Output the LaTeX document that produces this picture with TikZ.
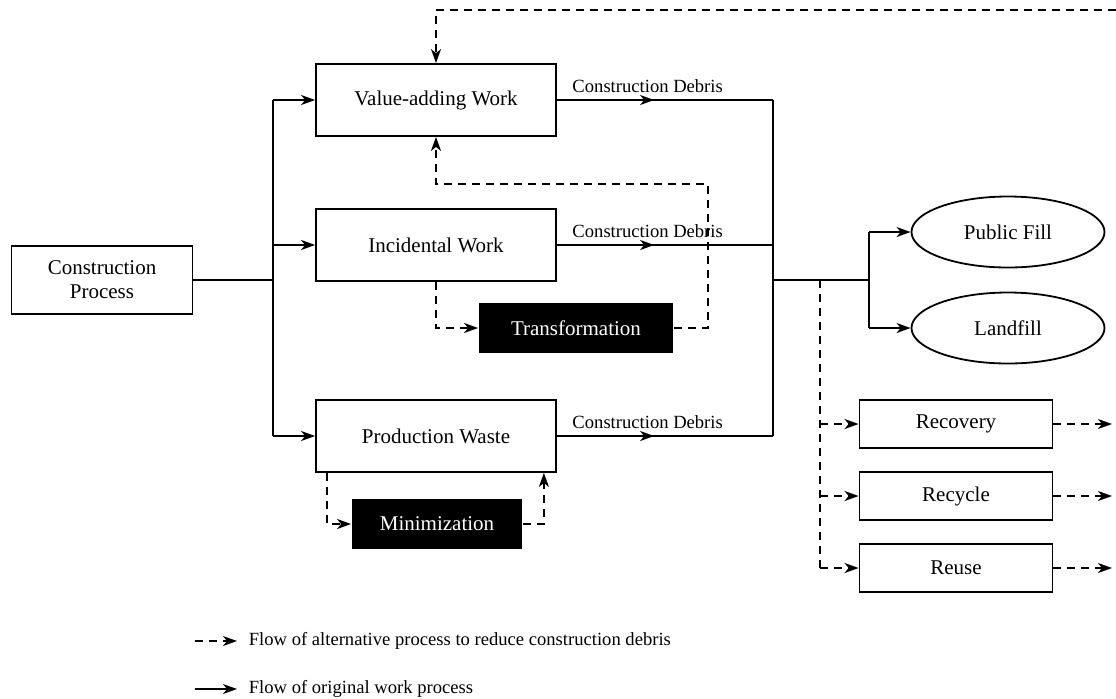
\documentclass[tikz,border=0pt]{standalone}
\usepackage{fontspec}
\setmainfont{Liberation Serif}
\usetikzlibrary{positioning,shapes.geometric,arrows.meta,decorations.markings}

\begin{document}
\begin{tikzpicture}[
    x=0.5pt,y=-0.5pt,
    line width=0.9pt,
    >={Stealth[length=7pt,width=5pt,inset=2pt]},
    process/.style={rectangle,draw,minimum width=120pt,minimum height=36pt,inner sep=0pt},
    action/.style={rectangle,fill=black,text=white,minimum height=25pt,inner sep=0pt},
    option/.style={rectangle,draw,minimum width=96.5pt,minimum height=24pt,inner sep=0pt},
    outlet/.style={ellipse,draw,minimum width=96.5pt,minimum height=35.5pt,inner sep=0pt},
    alt/.style={dash pattern=on 4pt off 3pt,->},
    debris/.style={postaction={decorate},decoration={markings,mark=at position 0.45 with {\arrow{>}}}},
    small/.style={font=\fontsize{9.3}{11}\selectfont},
    font=\fontsize{10.5}{12}\selectfont
    ]

    \useasboundingbox (0,0) rectangle (1116,698);

    % left box:
    \node (cp) at (102,280) [process,minimum width=90.5pt,minimum height=34pt,align=center] {Construction\\Process};

    % middle boxes:
    \node (va) at (436,100) [process] {Value-adding Work};
    \node (iw) at (436,245) [process] {Incidental Work};
    \node (pw) at (436,436) [process] {Production Waste};
    \node (tf) at (576,328) [action,minimum width=97pt] {Transformation};
    \node (mn) at (437,524) [action,minimum width=85pt] {Minimization};

    % right side:
    \node (pf) at (1008,232) [outlet] {Public Fill};
    \node (lf) at (1008,328) [outlet] {Landfill};
    \node (rc) at (956,424) [option] {Recovery};
    \node (ry) at (956,496) [option] {Recycle};
    \node (ru) at (956,568) [option] {Reuse};

    % junctions:
    \coordinate (jl) at (273,280);
    \coordinate (jr) at (773,280);
    \coordinate (jo) at (869,280);
    \coordinate (jd) at (820,280);
    \coordinate (tr) at (708,184);
    \coordinate (top) at (1116,10);
    \coordinate (edge) at (1112,0);

    % original flow:
    \draw (cp) -- (jl);
    \draw (jl |- va) -- (jl |- pw);
    \foreach \n in {va,iw,pw}
      \draw [->] (jl |- \n) -- (\n);

    \foreach \n in {va,iw,pw}
      \draw [debris] (\n.east) -- node [above,pos=0.42,small] {Construction Debris} (jr |- \n);

    \draw (jr |- va) -- (jr |- pw);
    \draw (jr) -- (jo);
    \draw (jo |- pf) -- (jo |- lf);
    \draw [->] (jo |- pf) -- (pf);
    \draw [->] (jo |- lf) -- (lf);

    % alternative flow:
    \draw [dash pattern=on 4pt off 3pt] (jd) -- (jd |- ru);
    \foreach \n in {rc,ry,ru}
      \draw [alt] (jd |- \n) -- (\n);
    \foreach \n in {rc,ry,ru}
      \draw [alt] (\n.east) -- (\n.east -| edge);

    \draw [alt] (top) -| (va.north);
    \draw [alt] (iw.south) |- (tf);
    \draw [alt] (tf.east) -| (tr) -| (va.south);
    \draw [alt] ([xshift=6pt]pw.south west) |- (mn);
    \draw [alt] (mn.east) -| ([xshift=-6.5pt]pw.south east);

    % legend:
    \node (la) at (248,641) [anchor=west,inner sep=0pt,small] {Flow of alternative process to reduce construction debris};
    \node (lo) at (248,689) [anchor=west,inner sep=0pt,small] {Flow of original work process};
    \draw [alt] ([xshift=-26.5pt]la.west) -- ([xshift=-5.5pt]la.west);
    \draw [->] ([xshift=-26.5pt]lo.west) -- ([xshift=-5.5pt]lo.west);

  \end{tikzpicture}
\end{document}
